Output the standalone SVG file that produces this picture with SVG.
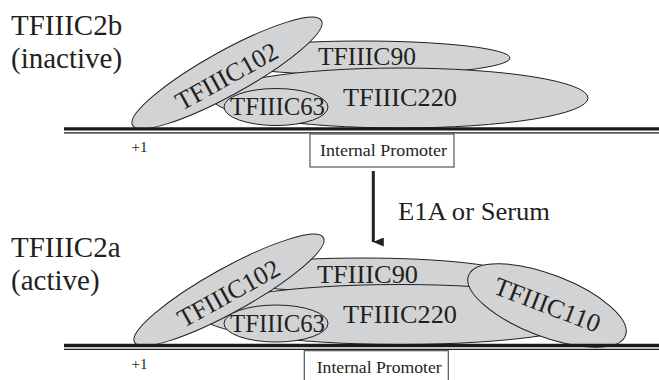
<svg xmlns="http://www.w3.org/2000/svg" width="659" height="380" viewBox="0 0 659 380" font-family="Liberation Serif, Times New Roman, serif">
  <style>
    .sub { fill: #d2d3d5; stroke: #231f20; stroke-width: 1; }
    text { font-family: "Liberation Serif", "Times New Roman", serif; fill: #231f20; }
    .box { fill: #ffffff; stroke: #555555; stroke-width: 1.2; }
    .dna-thick { stroke: #1a1a1a; stroke-width: 3.4; }
    .dna-thin { stroke: #1a1a1a; stroke-width: 1.3; }
  </style>
  <defs>
    <marker id="arrowhead" markerWidth="9" markerHeight="11" refX="4.5" refY="10.5" orient="auto-start-reverse" markerUnits="userSpaceOnUse" viewBox="0 0 9 11">
      <path d="M0,0 L9,0 L4.5,11 Z" fill="#231f20"/>
    </marker>
  </defs>

  <rect width="659" height="380" fill="#ffffff"/>

  <!-- State labels -->
  <g id="label-inactive" font-size="29">
    <text x="11" y="35">TFIIIC2b</text>
    <text x="11" y="68">(inactive)</text>
  </g>
  <g id="label-active" font-size="29">
    <text x="11" y="256.5">TFIIIC2a</text>
    <text x="11" y="290">(active)</text>
  </g>

  <!-- ===== Upper complex (TFIIIC2b) ===== -->
  <g id="tfiiic2b-c90" font-size="26">
    <ellipse class="sub" cx="362" cy="58" rx="148" ry="17"/>
    <text x="318" y="65" textLength="98" lengthAdjust="spacingAndGlyphs">TFIIIC90</text>
  </g>
  <g id="tfiiic2b-c220" font-size="26">
    <ellipse class="sub" cx="400" cy="98" rx="188" ry="30"/>
    <text x="343" y="106" textLength="114" lengthAdjust="spacingAndGlyphs">TFIIIC220</text>
  </g>
  <g id="tfiiic2b-c102" font-size="26" transform="translate(227 73) rotate(-29)">
    <ellipse class="sub" cx="0" cy="0" rx="108" ry="22"/>
    <text x="-2" y="11.5" text-anchor="middle">TFIIIC102</text>
  </g>
  <g id="tfiiic2b-c63" font-size="26">
    <ellipse class="sub" cx="276" cy="107" rx="52" ry="18.5"/>
    <text x="230" y="115" textLength="95" lengthAdjust="spacingAndGlyphs">TFIIIC63</text>
  </g>

  <g id="dna-upper">
    <line class="dna-thick" x1="64" y1="128.9" x2="659" y2="128.9"/>
    <line class="dna-thin" x1="64" y1="132.8" x2="659" y2="132.8"/>
    <text x="131.5" y="152.3" font-size="15">+1</text>
  </g>
  <g id="promoter-upper">
    <rect class="box" x="310" y="134" width="144" height="33"/>
    <text x="320" y="156" font-size="17" textLength="127" lengthAdjust="spacingAndGlyphs">Internal Promoter</text>
  </g>

  <!-- ===== Transition ===== -->
  <g id="connectors">
    <line x1="373.3" y1="171" x2="373.3" y2="242" stroke="#231f20" stroke-width="3" marker-end="url(#arrowhead)"/>
  </g>
  <g id="stimulus">
    <text x="398" y="220" font-size="26" textLength="152" lengthAdjust="spacingAndGlyphs">E1A or Serum</text>
  </g>

  <!-- ===== Lower complex (TFIIIC2a) ===== -->
  <g id="tfiiic2a-c90" font-size="26">
    <ellipse class="sub" cx="362" cy="275" rx="148" ry="17"/>
    <text x="317" y="283" textLength="101" lengthAdjust="spacingAndGlyphs">TFIIIC90</text>
  </g>
  <g id="tfiiic2a-c220" font-size="26">
    <ellipse class="sub" cx="400" cy="314.5" rx="200" ry="30"/>
    <text x="343" y="322.5" textLength="114" lengthAdjust="spacingAndGlyphs">TFIIIC220</text>
  </g>
  <g id="tfiiic2a-c102" font-size="26" transform="translate(229 290) rotate(-29)">
    <ellipse class="sub" cx="0" cy="0" rx="108" ry="22"/>
    <text x="-2" y="11.5" text-anchor="middle">TFIIIC102</text>
  </g>
  <g id="tfiiic2a-c63" font-size="26">
    <ellipse class="sub" cx="276" cy="323.5" rx="52" ry="18.5"/>
    <text x="230" y="331.5" textLength="95" lengthAdjust="spacingAndGlyphs">TFIIIC63</text>
  </g>
  <g id="tfiiic2a-c110" font-size="26" transform="translate(547 305.5) rotate(21)">
    <ellipse class="sub" cx="0" cy="0" rx="84" ry="31"/>
    <text x="0" y="8" text-anchor="middle">TFIIIC110</text>
  </g>

  <g id="dna-lower">
    <line class="dna-thick" x1="64" y1="345.5" x2="659" y2="345.5" stroke-width="4"/>
    <line class="dna-thin" x1="64" y1="349.4" x2="659" y2="349.4"/>
    <text x="131.5" y="369" font-size="15">+1</text>
  </g>
  <g id="promoter-lower">
    <rect class="box" x="304.3" y="350.7" width="144" height="40"/>
    <text x="316.7" y="373.3" font-size="17" textLength="125" lengthAdjust="spacingAndGlyphs">Internal Promoter</text>
  </g>
</svg>
